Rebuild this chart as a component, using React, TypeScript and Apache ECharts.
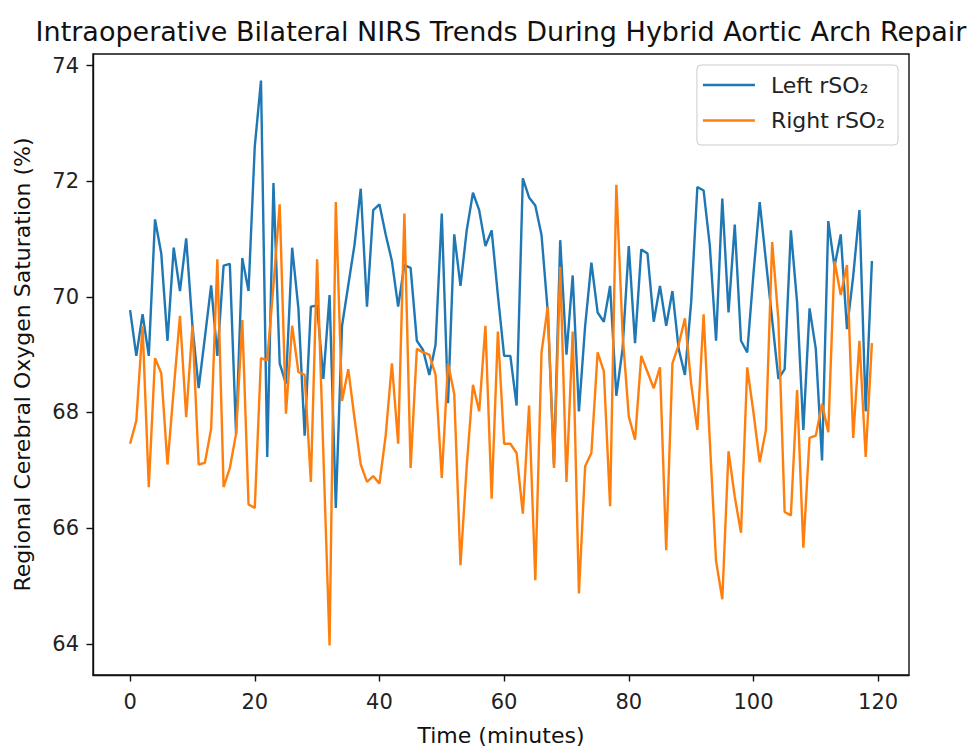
import React, { useEffect, useRef } from "react";
import * as echarts from "echarts";

// Minutes 0..119
const minutes: number[] = Array.from({ length: 120 }, (_, i) => i);

const leftRSO2: number[] = [
  69.77, 68.98, 69.7, 68.98, 71.34, 70.75, 69.24, 70.85, 70.1, 71.01,
  69.5, 68.42, 69.3, 70.2, 68.98, 70.54, 70.57, 67.63, 70.67, 70.1,
  72.6, 73.74, 67.23, 71.97, 68.85, 68.5, 70.85, 69.8, 67.6, 69.83,
  69.85, 68.58, 70.03, 66.35, 69.5, 70.2, 70.9, 71.87, 69.83, 71.5,
  71.6, 71.08, 70.62, 69.83, 70.55, 70.5, 69.24, 69.08, 68.65, 69.17,
  71.44, 68.16, 71.08, 70.19, 71.15, 71.8, 71.5, 70.88, 71.15, 70.03,
  68.98, 68.98, 68.12, 72.05, 71.72, 71.58, 71.07, 69.75, 67.1, 70.98,
  69.0, 70.37, 68.02, 69.5, 70.59, 69.73, 69.57, 70.19, 68.29, 69.1,
  70.88, 69.2, 70.82, 70.75, 69.57, 70.19, 69.5, 70.1, 69.1, 68.65,
  69.9, 71.9, 71.84, 70.88, 69.24, 71.7, 69.73, 71.25, 69.24, 69.04,
  70.4, 71.64, 70.62, 69.6, 68.58, 68.75, 71.15, 69.9, 67.7, 69.8,
  69.1, 67.17, 71.31, 70.52, 71.08, 69.44, 70.36, 71.5, 68.02, 70.62,
];

const rightRSO2: number[] = [
  67.46, 67.86, 69.5, 66.71, 68.94, 68.68, 67.1, 68.4, 69.67, 67.92,
  69.5, 67.1, 67.13, 67.72, 70.65, 66.71, 67.04, 67.63, 69.6, 66.41,
  66.35, 68.94, 68.9, 70.2, 71.6, 67.98, 69.5, 68.7, 68.65, 66.8,
  70.65, 67.3, 63.97, 71.64, 68.2, 68.75, 67.9, 67.1, 66.8, 66.9,
  66.77, 67.6, 68.85, 67.46, 71.44, 67.04, 69.1, 69.04, 69.0, 68.65,
  66.87, 68.85, 68.32, 65.36, 67.07, 68.48, 68.02, 69.5, 66.51, 69.4,
  67.46, 67.46, 67.3, 66.25, 68.12, 65.1, 69.04, 69.83, 67.04, 70.52,
  66.8, 69.4, 64.87, 67.07, 67.3, 69.04, 68.71, 66.38, 71.94, 69.37,
  67.93, 67.53, 68.98, 68.7, 68.42, 68.78, 65.62, 68.85, 69.17, 69.63,
  68.5, 67.7, 69.7, 67.5, 65.43, 64.77, 67.33, 66.54, 65.92, 68.78,
  68.0, 67.14, 67.7, 70.95, 69.6, 66.28, 66.22, 68.39, 65.66, 67.56,
  67.6, 68.15, 67.66, 70.62, 70.03, 70.55, 67.56, 69.24, 67.23, 69.2,
];

const xTicks: number[] = [0, 20, 40, 60, 80, 100, 120];
const yTicks: number[] = [64, 66, 68, 70, 72, 74];

const seriesNames = ["Left rSO₂", "Right rSO₂"];
const titleText =
  "Intraoperative Bilateral NIRS Trends During Hybrid Aortic Arch Repair";
const xLabel = "Time (minutes)";
const yLabel = "Regional Cerebral Oxygen Saturation (%)";

const FONT = "DejaVu Sans";

export default function App() {
  const ref = useRef<HTMLDivElement>(null);

  useEffect(() => {
    document.body.style.margin = "0";
    if (!ref.current) return;
    const chart = echarts.init(ref.current, undefined, { renderer: "svg" });

    const xMin = -5.95;
    const xMax = 124.95;
    const yMin = 63.46;
    const yMax = 74.2;

    const axisCommon = {
      axisLine: { show: true, onZero: false, lineStyle: { color: "#111", width: 1.4 } },
      axisTick: { show: true, length: 6.5, lineStyle: { color: "#111", width: 1.4 } },
      splitLine: { show: false },
    };

    chart.setOption({
      animation: false,
      backgroundColor: "#fff",
      textStyle: { fontFamily: FONT },
      grid: {
        left: 93,
        right: 68,
        top: 54,
        bottom: 72,
        show: true,
        borderColor: "#111",
        borderWidth: 1.4,
        backgroundColor: "transparent",
      },
      graphic: [
        {
          type: "text",
          x: 501,
          y: 31,
          style: {
            text: titleText,
            textAlign: "center",
            textVerticalAlign: "middle",
            fontFamily: FONT,
            fontSize: 27,
            fill: "#111",
          },
        },
      ],
      legend: {
        orient: "vertical",
        right: 79,
        top: 65,
        data: seriesNames.map((n) => ({ name: n, icon: "rect" })),
        itemWidth: 52,
        itemHeight: 2.4,
        itemGap: 9.5,
        padding: [7, 13, 11.5, 6],
        backgroundColor: "rgba(255,255,255,0.85)",
        borderColor: "#cccccc",
        borderWidth: 1,
        borderRadius: 4,
        textStyle: {
          fontFamily: FONT,
          fontSize: 22,
          lineHeight: 26,
          color: "#222",
          padding: [0, 0, 0, 11],
        },
      },
      xAxis: {
        type: "value",
        min: xMin,
        max: xMax,
        ...axisCommon,
        axisTick: { ...axisCommon.axisTick, customValues: xTicks },
        axisLabel: {
          customValues: xTicks,
          fontFamily: FONT,
          fontSize: 21,
          color: "#222",
          margin: 16,
        },
        name: xLabel,
        nameLocation: "middle",
        nameGap: 49,
        nameTextStyle: { fontFamily: FONT, fontSize: 22, color: "#111" },
      },
      yAxis: {
        type: "value",
        min: yMin,
        max: yMax,
        ...axisCommon,
        axisTick: { ...axisCommon.axisTick, customValues: yTicks },
        axisLabel: {
          customValues: yTicks,
          fontFamily: FONT,
          fontSize: 21,
          color: "#222",
          margin: 14,
        },
        name: yLabel,
        nameLocation: "middle",
        nameGap: 60,
        nameTextStyle: { fontFamily: FONT, fontSize: 22, color: "#111" },
      },
      series: [
        {
          name: seriesNames[0],
          type: "line",
          symbol: "none",
          data: minutes.map((m, i) => [m, leftRSO2[i]]),
          lineStyle: { color: "#1f77b4", width: 2.4 },
          itemStyle: { color: "#1f77b4" },
        },
        {
          name: seriesNames[1],
          type: "line",
          symbol: "none",
          data: minutes.map((m, i) => [m, rightRSO2[i]]),
          lineStyle: { color: "#ff7f0e", width: 2.4 },
          itemStyle: { color: "#ff7f0e" },
        },
      ],
    });

    return () => chart.dispose();
  }, []);

  return <div ref={ref} style={{ width: 977, height: 751 }} />;
}
